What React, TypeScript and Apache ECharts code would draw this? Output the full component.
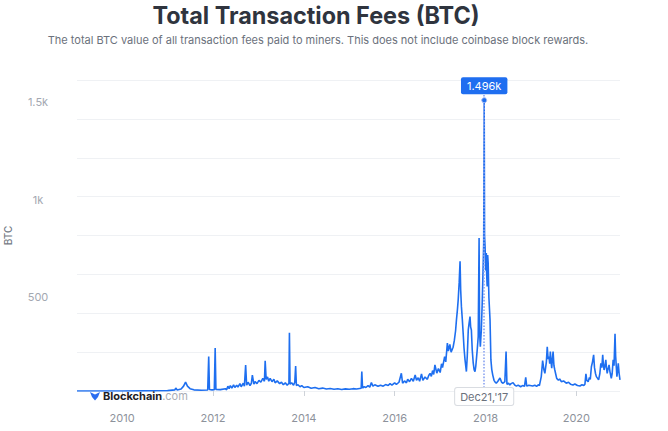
import React, { useEffect, useRef } from 'react';
import * as echarts from 'echarts';

// ---- Data ----
const dates: string[] = [
  '2009-01-03', '2009-06-01', '2010-01-01', '2010-06-01', '2010-12-01', '2011-01-01',
  '2011-03-01', '2011-03-08', '2011-03-20', '2011-04-20', '2011-05-10', '2011-05-26',
  '2011-06-10', '2011-07-01', '2011-08-01', '2011-10-01', '2011-11-20', '2011-11-28',
  '2011-12-04', '2011-12-25', '2012-01-12', '2012-01-19', '2012-01-25', '2012-03-01',
  '2012-04-10', '2012-04-20', '2012-04-30', '2012-05-10', '2012-05-20', '2012-06-01',
  '2012-06-15', '2012-06-25', '2012-07-10', '2012-07-20', '2012-08-05', '2012-08-15',
  '2012-09-01', '2012-09-10', '2012-09-20', '2012-09-28', '2012-10-10', '2012-10-25',
  '2012-11-05', '2012-11-13', '2012-11-25', '2012-12-05', '2012-12-20', '2013-01-05',
  '2013-01-20', '2013-02-05', '2013-02-18', '2013-02-24', '2013-03-04', '2013-03-15',
  '2013-03-25', '2013-04-05', '2013-04-20', '2013-05-05', '2013-05-15', '2013-06-01',
  '2013-06-20', '2013-07-05', '2013-07-20', '2013-08-05', '2013-08-20', '2013-09-03',
  '2013-09-07', '2013-09-12', '2013-09-25', '2013-10-10', '2013-10-20', '2013-10-27',
  '2013-11-02', '2013-11-15', '2013-12-01', '2013-12-15', '2014-01-01', '2014-02-01',
  '2014-03-01', '2014-04-01', '2014-05-01', '2014-06-01', '2014-07-01', '2014-08-01',
  '2014-09-01', '2014-10-01', '2014-11-01', '2014-12-01', '2015-01-01', '2015-02-01',
  '2015-03-01', '2015-04-07', '2015-04-12', '2015-04-18', '2015-05-01', '2015-05-15',
  '2015-06-01', '2015-06-15', '2015-06-28', '2015-07-10', '2015-07-25', '2015-08-20',
  '2015-09-10', '2015-10-01', '2015-10-20', '2015-11-10', '2015-11-25', '2015-12-10',
  '2016-01-01', '2016-01-15', '2016-02-05', '2016-02-24', '2016-03-05', '2016-03-20',
  '2016-04-05', '2016-04-15', '2016-04-30', '2016-05-15', '2016-05-30', '2016-06-14',
  '2016-06-25', '2016-07-08', '2016-07-20', '2016-08-04', '2016-08-15', '2016-09-01',
  '2016-09-20', '2016-10-01', '2016-10-12', '2016-10-22', '2016-11-01', '2016-11-10',
  '2016-11-20', '2016-12-05', '2016-12-18', '2017-01-01', '2017-01-12', '2017-01-20',
  '2017-02-06', '2017-02-15', '2017-02-28', '2017-03-08', '2017-03-20', '2017-03-30',
  '2017-04-15', '2017-04-25', '2017-05-05', '2017-05-12', '2017-05-20', '2017-05-26',
  '2017-06-03', '2017-06-10', '2017-06-15', '2017-06-21', '2017-06-28', '2017-07-05',
  '2017-07-12', '2017-07-20', '2017-07-31', '2017-08-07', '2017-08-15', '2017-08-22',
  '2017-08-29', '2017-09-03', '2017-09-09', '2017-09-16', '2017-09-24', '2017-10-01',
  '2017-10-08', '2017-10-14', '2017-10-19', '2017-10-27', '2017-11-03', '2017-11-10',
  '2017-11-14', '2017-11-20', '2017-11-28', '2017-12-05', '2017-12-12', '2017-12-17',
  '2017-12-21', '2017-12-24', '2017-12-28', '2018-01-02', '2018-01-07', '2018-01-10',
  '2018-01-14', '2018-01-18', '2018-01-22', '2018-01-28', '2018-02-06', '2018-02-13',
  '2018-02-20', '2018-02-28', '2018-03-10', '2018-03-20', '2018-03-28', '2018-04-10',
  '2018-04-27', '2018-05-10', '2018-05-22', '2018-06-05', '2018-06-15', '2018-06-22',
  '2018-07-05', '2018-07-15', '2018-07-25', '2018-08-10', '2018-08-25', '2018-09-06',
  '2018-09-20', '2018-10-10', '2018-10-25', '2018-11-10', '2018-11-20', '2018-11-28',
  '2018-12-15', '2019-01-15', '2019-02-01', '2019-02-15', '2019-03-01', '2019-03-10',
  '2019-03-25', '2019-04-05', '2019-04-15', '2019-04-23', '2019-05-05', '2019-05-12',
  '2019-05-19', '2019-05-26', '2019-06-01', '2019-06-06', '2019-06-12', '2019-06-17',
  '2019-06-22', '2019-06-28', '2019-07-05', '2019-07-12', '2019-07-20', '2019-07-27',
  '2019-08-10', '2019-08-20', '2019-09-02', '2019-09-20', '2019-10-12', '2019-10-30',
  '2019-11-15', '2019-12-05', '2019-12-20', '2020-01-10', '2020-01-30', '2020-02-15',
  '2020-03-01', '2020-03-10', '2020-03-18', '2020-03-25', '2020-04-05', '2020-04-15',
  '2020-04-22', '2020-05-01', '2020-05-10', '2020-05-19', '2020-05-26', '2020-06-03',
  '2020-06-10', '2020-06-20', '2020-06-28', '2020-07-08', '2020-07-16', '2020-07-24',
  '2020-07-31', '2020-08-05', '2020-08-11', '2020-08-18', '2020-08-25', '2020-08-30',
  '2020-09-05', '2020-09-12', '2020-09-20', '2020-09-27', '2020-10-08', '2020-10-15',
  '2020-10-23', '2020-10-30', '2020-11-07', '2020-11-12', '2020-11-22', '2020-11-27',
  '2020-12-03', '2020-12-10', '2020-12-17'
];

const fees: number[] = [
  0, 0, 0, 0.5, 1, 2,
  6, 15, 5, 10, 25, 46,
  25, 12, 6, 4, 5, 177,
  8, 6, 7, 221, 8, 7,
  12, 6, 25, 12, 28, 15,
  32, 18, 30, 20, 38, 22,
  40, 25, 134, 30, 45, 28,
  40, 82, 35, 48, 38, 55,
  45, 65, 50, 156, 60, 72,
  50, 65, 48, 60, 42, 52,
  38, 45, 32, 42, 30, 40,
  300, 35, 42, 30, 45, 129,
  28, 32, 22, 28, 18, 22,
  14, 18, 12, 15, 10, 13,
  9, 12, 8, 11, 9, 12,
  10, 14, 100, 15, 22, 18,
  28, 20, 43, 25, 32, 24,
  30, 25, 33, 28, 38, 30,
  42, 34, 45, 91, 40, 52,
  42, 60, 48, 65, 50, 82,
  55, 68, 50, 88, 55, 72,
  60, 80, 91, 75, 105, 85,
  134, 92, 115, 95, 140, 120,
  177, 150, 246, 205, 240, 200,
  225, 260, 310, 366, 420, 469,
  560, 667, 520, 434, 370, 297,
  220, 160, 100, 180, 314, 350,
  383, 330, 314, 210, 143, 110,
  100, 125, 160, 220, 280, 787,
  300, 228, 314, 450, 624, 760,
  1496, 800, 744, 620, 710, 600,
  538, 700, 658, 480, 366, 160,
  110, 82, 55, 45, 40, 50,
  67, 45, 40, 48, 203, 35,
  40, 31, 38, 43, 30, 25,
  30, 22, 28, 24, 70, 25,
  30, 26, 30, 24, 32, 28,
  74, 156, 110, 91, 150, 228,
  165, 177, 140, 203, 150, 117,
  160, 203, 130, 108, 85, 65,
  55, 62, 48, 52, 40, 45,
  35, 31, 36, 28, 26, 32,
  28, 35, 88, 55, 48, 70,
  60, 125, 150, 186, 120, 90,
  74, 65, 57, 90, 143, 120,
  186, 140, 108, 130, 160, 120,
  91, 115, 134, 100, 65, 90,
  160, 130, 295, 180, 74, 100,
  143, 90, 57
];

const peakDate = '2017-12-21';
const peakValue = 1496;
const peakLabel = '1.496k';
const peakDateLabel = "Dec21,'17";

const xTickYears: number[] = [2010, 2012, 2014, 2016, 2018, 2020];
const yLabelValues: number[] = [500, 1000, 1500];
const yLabelTexts: string[] = ['500', '1k', '1.5k'];
const yMax = 1600;
const yStep = 200;

const titleText = 'Total Transaction Fees (BTC)';
const subtitleText =
  'The total BTC value of all transaction fees paid to miners. This does not include coinbase block rewards.';

const FONT = 'Inter, "Noto Sans", sans-serif';
const toTs = (d: string) => new Date(d + 'T00:00:00Z').getTime();

export default function App() {
  const ref = useRef<HTMLDivElement>(null);

  useEffect(() => {
    if (!ref.current) return;
    const chart = echarts.init(ref.current, undefined, { renderer: 'svg' });
    const seriesData = dates.map((d, i) => [toTs(d), fees[i]]);
    const tickTs = xTickYears.map((y) => Date.UTC(y, 0, 1));

    chart.setOption({
      animation: false,
      backgroundColor: '#ffffff',
      textStyle: { fontFamily: FONT },
      grid: { left: 77, right: 48, top: 80, bottom: 40, containLabel: false, outerBoundsMode: 'none' },
      xAxis: {
        type: 'value',
        min: toTs(dates[0]),
        max: toTs(dates[dates.length - 1]),
        offset: 11,
        axisLine: { show: false },
        axisTick: {
          show: true,
          length: 5,
          customValues: tickTs,
          lineStyle: { color: '#cfd3d9', width: 1 },
        },
        axisLabel: {
          customValues: tickTs,
          formatter: (v: number) => String(new Date(v).getUTCFullYear()),
          color: '#8d929b',
          fontSize: 11,
          margin: 10,
          fontFamily: FONT,
        },
        splitLine: { show: false },
      },
      yAxis: {
        type: 'value',
        min: 0,
        max: yMax,
        interval: yStep,
        name: 'BTC',
        nameLocation: 'middle',
        nameRotate: 90,
        nameGap: 64,
        nameTextStyle: { color: '#737984', fontSize: 10, fontWeight: 500, fontFamily: FONT },
        axisLine: { show: false },
        axisTick: { show: false },
        axisLabel: {
          customValues: yLabelValues,
          formatter: (v: number) => {
            const i = yLabelValues.indexOf(v);
            return i >= 0 ? yLabelTexts[i] : '';
          },
          align: 'center',
          verticalAlign: 'top',
          lineHeight: 6,
          margin: 39,
          color: '#a3a8b1',
          fontSize: 11,
          fontFamily: FONT,
        },
        splitLine: { show: true, lineStyle: { color: '#eff1f4', width: 1 } },
      },
      graphic: [
        {
          type: 'text',
          x: 316,
          y: 15,
          scaleX: 0.975,
          style: {
            text: titleText,
            fill: '#2f343e',
            font: `700 24px ${FONT}`,
            textAlign: 'center',
            textVerticalAlign: 'middle',
          },
        },
        {
          type: 'text',
          x: 318,
          y: 40,
          style: {
            text: subtitleText,
            fill: '#6b717c',
            font: `400 11px ${FONT}`,
            textAlign: 'center',
            textVerticalAlign: 'middle',
          },
        },
        {
          type: 'polygon',
          shape: { points: [[90, 392], [95, 394.5], [100, 392], [98, 397], [95, 400.5], [92, 397]] },
          style: { fill: '#2a6df0' },
          z: 100,
        },
        {
          type: 'text',
          x: 103,
          y: 396,
          z: 100,
          style: {
            text: '{a|Blockchain}{b|.com}',
            textVerticalAlign: 'middle',
            rich: {
              a: { fontFamily: FONT, fontSize: 11, fontWeight: 700, fill: '#1d2026', color: '#1d2026' },
              b: { fontFamily: FONT, fontSize: 11, fontWeight: 400, fill: '#a9adb5', color: '#a9adb5' },
            },
          },
        },
      ],
      series: [
        {
          type: 'line',
          data: seriesData,
          showSymbol: false,
          symbol: 'none',
          lineStyle: { color: '#1e6ff0', width: 1.6 },
          itemStyle: { color: '#1e6ff0' },
          z: 3,
          markLine: {
            silent: true,
            symbol: 'none',
            lineStyle: { type: 'dotted', color: '#8aa3f0', width: 1.6 },
            label: {
              show: true,
              position: 'start',
              formatter: peakDateLabel,
              color: '#6b717c',
              fontSize: 11,
              fontFamily: FONT,
              backgroundColor: '#ffffff',
              borderColor: '#d9dce1',
              borderWidth: 1,
              borderRadius: 2,
              padding: [3, 5],
              distance: 0,
              offset: [0, -3],
            },
            data: [{ xAxis: toTs(peakDate) }],
          },
          markPoint: {
            silent: true,
            symbol: 'circle',
            symbolSize: 5,
            itemStyle: { color: '#1e6ff0', borderColor: '#9fb6f5', borderWidth: 1 },
            label: {
              show: true,
              position: 'top',
              distance: 3,
              formatter: peakLabel,
              color: '#ffffff',
              fontSize: 11,
              fontFamily: FONT,
              backgroundColor: '#1f6ef0',
              borderRadius: 2,
              padding: [3, 6],
            },
            data: [{ coord: [toTs(peakDate), peakValue] }],
          },
        },
      ],
    });

    return () => chart.dispose();
  }, []);

  return (
    <div
      ref={ref}
      style={{ position: 'fixed', left: 0, top: 0, width: 668, height: 431, background: '#fff' }}
    />
  );
}
